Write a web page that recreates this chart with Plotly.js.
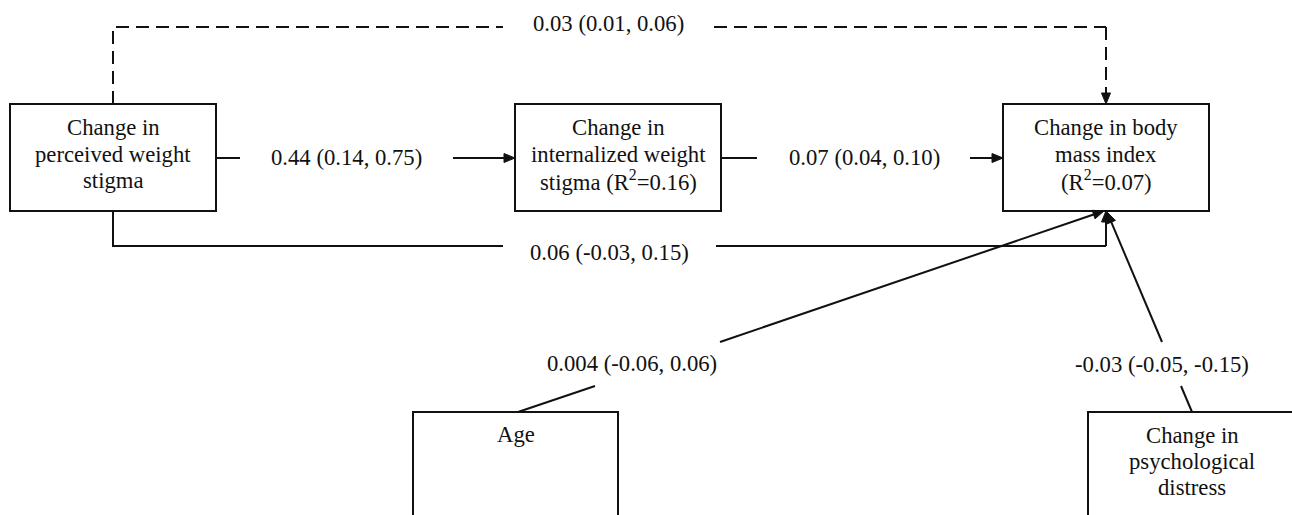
<!DOCTYPE html>
<html>
<head>
<meta charset="utf-8">
<script src="https://cdn.plot.ly/plotly-3.0.1.min.js"></script>
<style>html,body{margin:0;padding:0;background:#fff;}#chart{width:1292px;height:515px;}</style>
</head>
<body>
<div id="chart"></div>
<script>
// ---- data ----
const nodeNames = ['perceived', 'internalized', 'bmi', 'age', 'distress'];
const nodeLines = [
  ['Change in', 'perceived weight', 'stigma'],
  ['Change in', 'internalized weight', 'stigma (R<sup>2</sup>=0.16)'],
  ['Change in body', 'mass index', '(R<sup>2</sup>=0.07)'],
  ['Age'],
  ['Change in', 'psychological', 'distress']
];
const pathLabels = [
  '0.03 (0.01, 0.06)',
  '0.44 (0.14, 0.75)',
  '0.07 (0.04, 0.10)',
  '0.06 (-0.03, 0.15)',
  '0.004 (-0.06, 0.06)',
  '-0.03 (-0.05, -0.15)'
];

// ---- layout geometry ----
const boxes = {
  perceived:   {x0: 10,   x1: 216,  y0: 104, y1: 211, tx: 113,  ty: [127, 154, 180]},
  internalized:{x0: 515,  x1: 721,  y0: 104, y1: 211, tx: 618,  ty: [127, 154, 180]},
  bmi:         {x0: 1003, x1: 1209, y0: 104, y1: 211, tx: 1106, ty: [127, 154, 180]},
  age:         {x0: 413,  x1: 618,  y0: 412, y1: 530, tx: 516,  ty: [434]},
  distress:    {x0: 1088, x1: 1294, y0: 412, y1: 530, tx: 1192, ty: [435, 461, 487]}
};
const labelPos = [[608, 23], [346, 157], [864, 157], [609, 252], [632, 363], [1162, 364]];

const FONT = {family: '"Liberation Serif", "Times New Roman", Times, serif', size: 22.7, color: '#111'};
const LW = 2;
const black = '#111';

const shapes = [];
const annotations = [];

nodeNames.forEach((n, i) => {
  const b = boxes[n];
  shapes.push({type: 'rect', xref: 'x', yref: 'y', x0: b.x0, x1: b.x1, y0: b.y0, y1: b.y1,
    line: {color: black, width: LW}, fillcolor: 'rgba(0,0,0,0)'});
  nodeLines[i].forEach((t, j) => {
    annotations.push({x: b.tx, y: b.ty[j], xref: 'x', yref: 'y', text: t, showarrow: false,
      font: FONT, xanchor: 'center', yanchor: 'middle'});
  });
});

pathLabels.forEach((t, i) => {
  annotations.push({x: labelPos[i][0], y: labelPos[i][1], xref: 'x', yref: 'y', text: t,
    showarrow: false, font: FONT, xanchor: 'center', yanchor: 'middle'});
});

function seg(pts, dash) {
  const d = 'M' + pts.map(p => p[0] + ',' + p[1]).join(' L');
  shapes.push({type: 'path', xref: 'x', yref: 'y', path: d,
    line: {color: black, width: LW, dash: dash || 'solid'}});
}
// arrow: shaft from -> to, with a filled triangular head ending at "to"
const HEAD_L = 11, HEAD_W = 4.5;
function arrow(from, to, dash) {
  const dx = to[0] - from[0], dy = to[1] - from[1];
  const len = Math.hypot(dx, dy);
  const ux = dx / len, uy = dy / len;
  const bx = to[0] - ux * HEAD_L, by = to[1] - uy * HEAD_L;
  seg([from, [bx, by]], dash);
  const px = -uy * HEAD_W, py = ux * HEAD_W;
  shapes.push({type: 'path', xref: 'x', yref: 'y',
    path: 'M' + to[0] + ',' + to[1] + ' L' + (bx + px) + ',' + (by + py) + ' L' + (bx - px) + ',' + (by - py) + ' Z',
    fillcolor: black, line: {color: black, width: 1}});
}

const DASH = '13px,7px';
// dashed direct path
seg([[113, 104], [113, 27], [503, 27]], DASH);
seg([[714, 27], [1106, 27]], DASH);
arrow([1106, 27], [1106, 104], DASH);

// perceived -> internalized
seg([[216, 158], [240, 158]]);
arrow([453, 158], [515, 158]);

// internalized -> bmi
seg([[721, 158], [757, 158]]);
arrow([970, 158], [1003, 158]);

// perceived -> bmi (direct, solid)
seg([[113, 211], [113, 246], [503, 246]]);
seg([[716, 246], [1106, 246]]);
arrow([1106, 246], [1106, 211]);

// age -> bmi
seg([[518, 412], [595, 386]]);
arrow([720, 342], [1104, 211]);

// distress -> bmi
seg([[1192, 412], [1181, 386]]);
arrow([1162, 342], [1107, 212]);

const layout = {
  width: 1292, height: 515,
  margin: {l: 0, r: 0, t: 0, b: 0},
  paper_bgcolor: '#fff', plot_bgcolor: '#fff',
  font: FONT,
  showlegend: false,
  xaxis: {range: [0, 1292], visible: false, fixedrange: true},
  yaxis: {range: [515, 0], visible: false, fixedrange: true},
  shapes: shapes,
  annotations: annotations
};

Plotly.newPlot('chart', [{x: [], y: [], type: 'scatter', mode: 'markers'}], layout,
  {displayModeBar: false, staticPlot: true});
</script>
</body>
</html>
